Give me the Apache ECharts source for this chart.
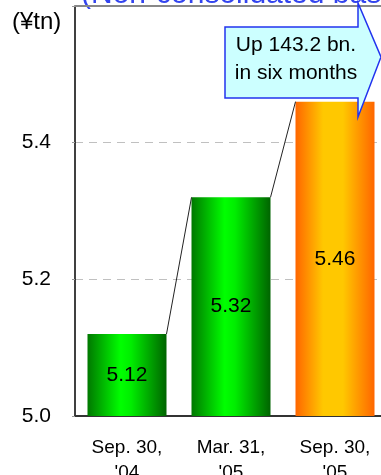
<!DOCTYPE html>
<html>
<head>
<meta charset="utf-8">
<script src="https://cdn.jsdelivr.net/npm/echarts@6/dist/echarts.min.js"></script>
<style>html,body{margin:0;padding:0;background:#fff;}#c{width:381px;height:475px;}</style>
</head>
<body>
<div id="c"></div>
<script>
var categories = ["Sep. 30,\n'04", "Mar. 31,\n'05", "Sep. 30,\n'05"];
var values = [5.12, 5.32, 5.46];
var yTicks = [5.0, 5.2, 5.4, 5.6];
var unitLabel = "(¥tn)";
var titleText = "(Non-consolidated basis)";
var calloutLines = ["Up 143.2 bn.", "in six months"];

var BAR_W = 79;
function greenGrad() {
  return new echarts.graphic.LinearGradient(0, 0, 1, 0, [
    {offset: 0, color: '#007800'},
    {offset: 0.42, color: '#00ff00'},
    {offset: 0.55, color: '#00ee00'},
    {offset: 1, color: '#006400'}
  ]);
}
function orangeGrad() {
  return new echarts.graphic.LinearGradient(0, 0, 1, 0, [
    {offset: 0, color: '#ff6600'},
    {offset: 0.35, color: '#ffc800'},
    {offset: 0.6, color: '#ffc800'},
    {offset: 1, color: '#ff6600'}
  ]);
}
var chart = echarts.init(document.getElementById('c'));
var font = 'Liberation Sans, Arial, sans-serif';
chart.setOption({
  animation: false,
  textStyle: {fontFamily: font},
  grid: {left: 75, top: 6, width: 312, height: 410, containLabel: false, outerBoundsMode: 'none'},
  xAxis: {
    type: 'category',
    data: categories,
    axisLine: {lineStyle: {color: '#333', width: 2}},
    axisTick: {show: false},
    axisLabel: {fontSize: 19, color: '#000', lineHeight: 25, margin: 19, fontFamily: font}
  },
  yAxis: {
    type: 'value',
    min: yTicks[0], max: yTicks[yTicks.length - 1], interval: 0.2,
    axisLine: {show: true, lineStyle: {color: '#000', width: 1.5}},
    axisTick: {show: true, length: 3, lineStyle: {color: '#999'}},
    axisLabel: {
      fontSize: 21, color: '#000', margin: 24, fontFamily: font,
      formatter: function (v) { return Math.abs(v - 5.6) < 1e-6 ? '' : v.toFixed(1); }
    },
    splitLine: {show: true, lineStyle: {color: '#c0c0c0', type: [8, 6], width: 1}}
  },
  series: [
    {
      type: 'bar',
      barWidth: BAR_W,
      data: values.map(function (v, i) {
        return {value: v, itemStyle: {color: i === 2 ? orangeGrad() : greenGrad()}};
      }),
      label: {
        show: true, position: 'inside', fontSize: 21, color: '#000', fontFamily: font,
        formatter: function (p) { return p.value.toFixed(2); }
      },
      z: 2
    },
    {
      type: 'custom',
      data: values.map(function (v, i) { return [i, v]; }),
      renderItem: function (params, api) {
        var i = params.dataIndex;
        if (i === 0) return null;
        var p0 = api.coord([i - 1, values[i - 1]]);
        var p1 = api.coord([i, values[i]]);
        return {
          type: 'line',
          shape: {x1: p0[0] + BAR_W / 2, y1: p0[1], x2: p1[0] - BAR_W / 2, y2: p1[1]},
          style: {stroke: '#222', lineWidth: 1}
        };
      },
      z: 3
    }
  ],
  graphic: [
    {type: 'line', shape: {x1: 75, y1: 6, x2: 381, y2: 6}, style: {stroke: '#888', lineWidth: 2}, z: 5},
    {type: 'text', left: 12, top: 10, style: {text: unitLabel, fontSize: 24, fill: '#000', fontFamily: font}, z: 10},
    {type: 'text', x: 81, y: 10, style: {text: titleText, fontSize: 30, fill: '#3344ee', fontFamily: font, textVerticalAlign: 'bottom'}, z: 4},
    {type: 'polygon', shape: {points: [[225, 27], [358, 27], [358, 3], [381, 57], [358, 117], [358, 98], [225, 98]]},
      style: {fill: '#ccffff', stroke: '#2233ee', lineWidth: 1.5}, z: 20},
    {type: 'text', x: 296, y: 45, style: {text: calloutLines[0], fontSize: 21, fill: '#000', fontFamily: font, textAlign: 'center', textVerticalAlign: 'middle'}, z: 21},
    {type: 'text', x: 296, y: 73, style: {text: calloutLines[1], fontSize: 21, fill: '#000', fontFamily: font, textAlign: 'center', textVerticalAlign: 'middle'}, z: 21}
  ]
});
</script>
</body>
</html>
